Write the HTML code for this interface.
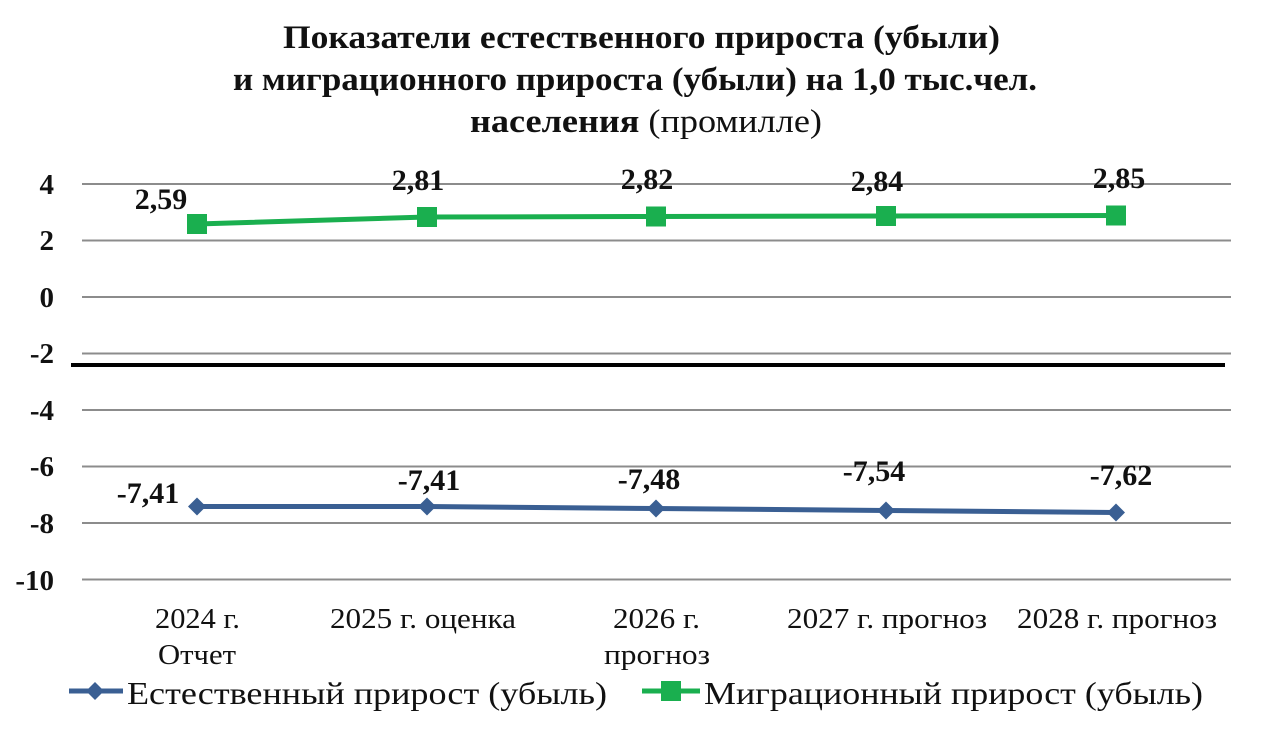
<!DOCTYPE html>
<html><head><meta charset="utf-8"><style>
html,body{margin:0;padding:0;background:#fff;}
svg{display:block;font-family:"Liberation Serif",serif;}
</style></head><body>
<svg width="1280" height="746" viewBox="0 0 1280 746">
<g font-weight="bold" font-size="33" fill="#111" lengthAdjust="spacingAndGlyphs">
<text x="283" y="48" textLength="717" lengthAdjust="spacingAndGlyphs">Показатели естественного прироста (убыли)</text>
<text x="233" y="90" textLength="804" lengthAdjust="spacingAndGlyphs">и миграционного прироста (убыли) на 1,0 тыс.чел.</text>
<text x="470" y="132" textLength="352" lengthAdjust="spacingAndGlyphs">населения <tspan font-weight="normal">(промилле)</tspan></text>
</g>
<g stroke="#8c8c8c" stroke-width="2">
<line x1="82" x2="1231" y1="184" y2="184"/>
<line x1="82" x2="1231" y1="240.5" y2="240.5"/>
<line x1="82" x2="1231" y1="297" y2="297"/>
<line x1="82" x2="1231" y1="353.5" y2="353.5"/>
<line x1="82" x2="1231" y1="410" y2="410"/>
<line x1="82" x2="1231" y1="466.5" y2="466.5"/>
<line x1="82" x2="1231" y1="523" y2="523"/>
<line x1="82" x2="1231" y1="579.5" y2="579.5"/>
</g>
<line x1="71" x2="1225" y1="365" y2="365" stroke="#000" stroke-width="4"/>
<g font-weight="bold" font-size="29" text-anchor="end" fill="#111">
<text x="54" y="194">4</text><text x="54" y="250">2</text><text x="54" y="307">0</text>
<text x="54" y="363">-2</text><text x="54" y="420">-4</text><text x="54" y="476">-6</text>
<text x="54" y="533">-8</text><text x="54" y="590">-10</text>
</g>
<polyline points="197,224 427,217 656,216.5 886,216 1116,215.5" fill="none" stroke="#1aaf4f" stroke-width="5"/>
<g fill="#1aaf4f">
<rect x="187" y="214" width="20" height="20"/><rect x="417" y="207" width="20" height="20"/>
<rect x="646" y="206.5" width="20" height="20"/><rect x="876" y="206" width="20" height="20"/>
<rect x="1106" y="205.5" width="20" height="20"/>
</g>
<polyline points="197,506.5 427,506.5 656,508.5 886,510.5 1116,512.5" fill="none" stroke="#3a5f93" stroke-width="5"/>
<g fill="#3a5f93">
<path d="M197,497.5 l9,9 l-9,9 l-9,-9z"/><path d="M427,497.5 l9,9 l-9,9 l-9,-9z"/>
<path d="M656,499.5 l9,9 l-9,9 l-9,-9z"/><path d="M886,501.5 l9,9 l-9,9 l-9,-9z"/>
<path d="M1116,503.5 l9,9 l-9,9 l-9,-9z"/>
</g>
<g font-weight="bold" font-size="30" text-anchor="middle" fill="#111">
<text x="161" y="209">2,59</text><text x="418" y="190">2,81</text><text x="647" y="189">2,82</text>
<text x="877" y="191">2,84</text><text x="1119" y="188">2,85</text>
<text x="148" y="503">-7,41</text><text x="429" y="490">-7,41</text><text x="649" y="489">-7,48</text>
<text x="874" y="481">-7,54</text><text x="1121" y="485">-7,62</text>
</g>
<g font-size="28" fill="#111">
<text x="155" y="628" textLength="85" lengthAdjust="spacingAndGlyphs">2024 г.</text>
<text x="158" y="664" textLength="78" lengthAdjust="spacingAndGlyphs">Отчет</text>
<text x="330" y="628" textLength="186" lengthAdjust="spacingAndGlyphs">2025 г. оценка</text>
<text x="613" y="628" textLength="87" lengthAdjust="spacingAndGlyphs">2026 г.</text>
<text x="604" y="664" textLength="106" lengthAdjust="spacingAndGlyphs">прогноз</text>
<text x="787" y="628" textLength="200" lengthAdjust="spacingAndGlyphs">2027 г. прогноз</text>
<text x="1017" y="628" textLength="200" lengthAdjust="spacingAndGlyphs">2028 г. прогноз</text>
</g>
<line x1="69" x2="123" y1="691" y2="691" stroke="#3a5f93" stroke-width="5"/>
<path d="M95,682 l9,9 l-9,9 l-9,-9z" fill="#3a5f93"/>
<text x="127" y="704" font-size="32" fill="#111" textLength="480" lengthAdjust="spacingAndGlyphs">Естественный прирост (убыль)</text>
<line x1="642" x2="700" y1="691" y2="691" stroke="#1aaf4f" stroke-width="5"/>
<rect x="661" y="681" width="20" height="20" fill="#1aaf4f"/>
<text x="704" y="704" font-size="32" fill="#111" textLength="499" lengthAdjust="spacingAndGlyphs">Миграционный прирост (убыль)</text>
</svg>
</body></html>
